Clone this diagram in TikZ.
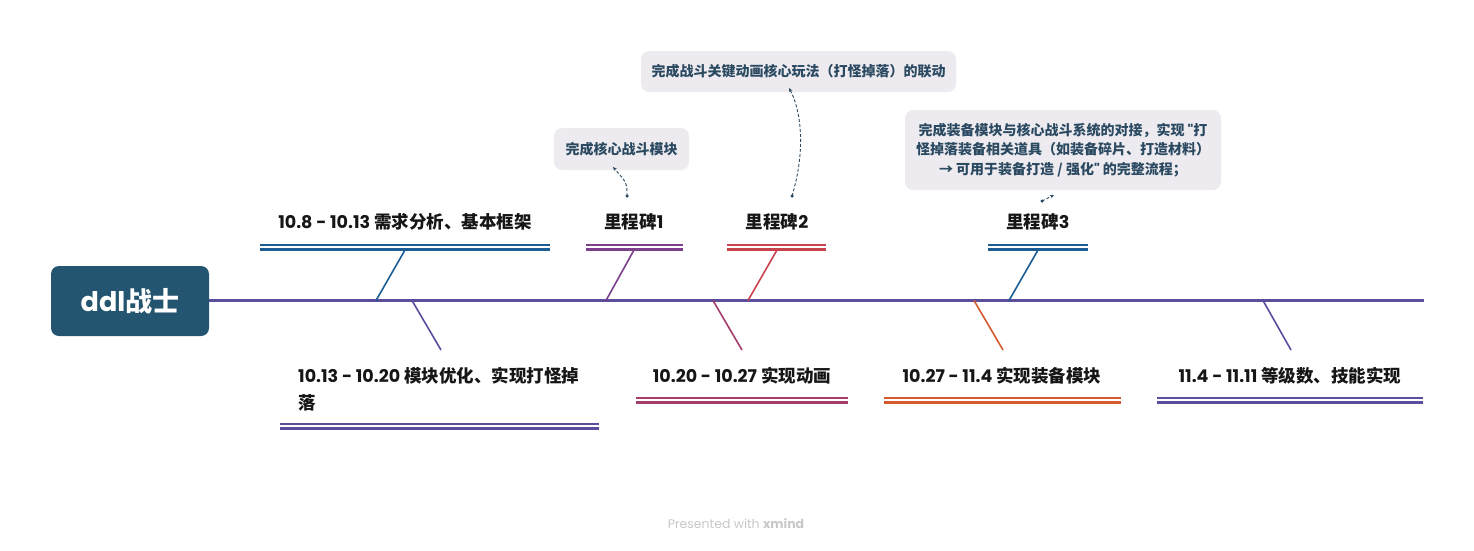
\documentclass[tikz,border=0pt]{standalone}
\usepackage{fontspec}
\setmainfont{Noto Sans CJK SC}
\newfontfamily\pp{Poppins}
\newfontfamily\pq{Poppins}[Ligatures=TeXOff]
\usetikzlibrary{arrows.meta}
\definecolor{mainbg}{HTML}{245570}
\definecolor{spine}{HTML}{5B4E9B}
\definecolor{cblue}{HTML}{1C5E94}
\definecolor{cpurA}{HTML}{7C3F8C}
\definecolor{cmag}{HTML}{A33D6B}
\definecolor{cred}{HTML}{C9434F}
\definecolor{corange}{HTML}{D45A2E}
\definecolor{cpurB}{HTML}{5A4D9E}
\definecolor{notebg}{HTML}{EDEBEF}
\definecolor{notetx}{HTML}{2B4A62}
\definecolor{lbltx}{HTML}{161616}
\definecolor{foot}{HTML}{C8C8C8}
\newcommand{\nm}[1]{{\pp #1}}
\newcommand{\qq}{{\pq"}}
\begin{document}
\begin{tikzpicture}[x=1pt,y=-1pt,
  lbl/.style={font=\fontsize{17.5}{27}\selectfont\bfseries, text=lbltx, inner sep=0pt},
  note/.style={fill=notebg, rounded corners=8pt, font=\fontsize{14}{19.5}\selectfont\bfseries, text=notetx, align=center, inner sep=0pt},
  dbl/.style={line width=2.1pt},
  branch/.style={line width=1.6pt},
  link/.style={draw=notetx, line width=0.9pt, dash pattern=on 3pt off 2pt, -{Stealth[length=4pt,width=3.5pt]}},
  linkdot/.style={fill=notetx, circle, inner sep=0pt, minimum size=3.5pt}
]
\useasboundingbox (0,0) rectangle (1474,550);

% main node
\node[fill=mainbg, rounded corners=8pt, minimum width=158pt, minimum height=70pt, inner sep=0pt,
      text=white, font=\fontsize{27}{30}\selectfont\bfseries] (main) at (130,301) {\nm{ddl}战士};

% spine
\coordinate (spineend) at (1424,300.5);
\draw[spine, line width=2.1pt] (main.east |- 0,300.5) -- (spineend);

% labels
\node[lbl] (l1) at (405,222) {\nm{10.8 - 10.13} 需求分析、基本框架};
\node[lbl, align=left, anchor=west] (l2) at (298,389.5) {\nm{10.13 - 10.20} 模块优化、实现打怪掉\\落};
\node[lbl] (l3) at (634,222) {里程碑\nm{1}};
\node[lbl] (l4) at (742,376) {\nm{10.20 - 10.27} 实现动画};
\node[lbl] (l5) at (777,222) {里程碑\nm{2}};
\node[lbl] (l6) at (1002,376) {\nm{10.27 - 11.4} 实现装备模块};
\node[lbl] (l7) at (1038,222) {里程碑\nm{3}};
\node[lbl] (l8) at (1290,376) {\nm{11.4 - 11.11} 等级数、技能实现};

% double underlines
\draw[dbl, cblue]  (260,245) -- (550,245) (260,249.5) -- (550,249.5);
\draw[dbl, cpurB]  (280,424) -- (599,424) (280,428.5) -- (599,428.5);
\draw[dbl, cpurA]  (586,245) -- (683,245) (586,249.5) -- (683,249.5);
\draw[dbl, cmag]   (636,398) -- (848,398) (636,402.5) -- (848,402.5);
\draw[dbl, cred]   (727,245) -- (826,245) (727,249.5) -- (826,249.5);
\draw[dbl, corange](884,398) -- (1121,398) (884,402.5) -- (1121,402.5);
\draw[dbl, cblue]  (988,245) -- (1088,245) (988,249.5) -- (1088,249.5);
\draw[dbl, cpurB]  (1157,398) -- (1423,398) (1157,402.5) -- (1423,402.5);

% branch coordinates
\coordinate (s1) at (376,300.5); \coordinate (e1) at (405,250);
\coordinate (s2) at (412,300.5); \coordinate (e2) at (441,350);
\coordinate (s3) at (606,300.5); \coordinate (e3) at (634,250);
\coordinate (s4) at (713,300.5); \coordinate (e4) at (742,350);
\coordinate (s5) at (748,300.5); \coordinate (e5) at (777,250);
\coordinate (s6) at (974,300.5); \coordinate (e6) at (1003,350);
\coordinate (s7) at (1009,300.5); \coordinate (e7) at (1038,250);
\coordinate (s8) at (1263,300.5); \coordinate (e8) at (1291,350);
\draw[branch, cblue]   (s1) -- (e1);
\draw[branch, cpurB]   (s2) -- (e2);
\draw[branch, cpurA]   (s3) -- (e3);
\draw[branch, cmag]    (s4) -- (e4);
\draw[branch, cred]    (s5) -- (e5);
\draw[branch, corange] (s6) -- (e6);
\draw[branch, cblue]   (s7) -- (e7);
\draw[branch, cpurB]   (s8) -- (e8);

% notes
\node[note, minimum width=135pt, minimum height=42pt] (n1) at (621.5,149) {完成核心战斗模块};
\node[note, minimum width=315pt, minimum height=41pt] (n2) at (798.5,71.5) {完成战斗关键动画核心玩法（打怪掉落）的联动};
\node[note, minimum width=316pt, minimum height=80pt] (n3) at (1063,150)
  {完成装备模块与核心战斗系统的对接，实现 \qq 打\\怪掉落装备相关道具（如装备碎片、打造材料）\\→ 可用于装备打造 / 强化\qq\ 的完整流程；};

% links
\node[linkdot] (d1) at (627,196) {};
\node[linkdot] (d2) at (792,196) {};
\node[linkdot] (d3) at (1042,201) {};
\coordinate (t1) at (613,167);
\coordinate (t2) at (789,88);
\coordinate (t3) at (1054,195);
\draw[link] (d1.center) .. controls (627,183) .. (t1);
\draw[link] (d2.center) .. controls (806,150) and (801,110) .. (t2);
\draw[link] (d3.center) -- (t3);

% footer
\node[text=foot, font=\pp\fontsize{12.5}{14}\selectfont, inner sep=0pt] (foot) at (736,524) {Presented with \textbf{xmind}};
\end{tikzpicture}
\end{document}
